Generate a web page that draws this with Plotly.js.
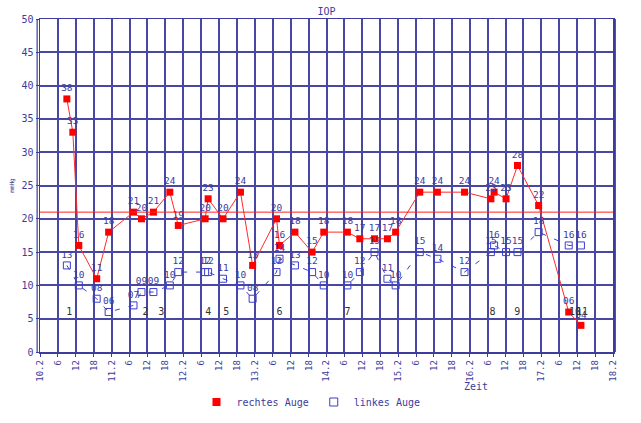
<!DOCTYPE html>
<html>
<head>
<meta charset="utf-8">
<script src="https://cdn.plot.ly/plotly-3.0.1.min.js"></script>
<style>html,body{margin:0;padding:0;background:#fff;}#chart{width:641px;height:423px;}</style>
</head>
<body>
<div id="chart"></div>
<script>
// Measurement times (day.month 02, year arbitrary)
const times = [
  "2016-02-10 09:00","2016-02-10 11:00","2016-02-10 13:00","2016-02-10 19:00","2016-02-10 23:00",
  "2016-02-11 07:20","2016-02-11 10:00","2016-02-11 14:00","2016-02-11 19:30","2016-02-11 22:20",
  "2016-02-12 07:20","2016-02-12 08:20","2016-02-12 13:20","2016-02-12 19:10","2016-02-12 23:15",
  "2016-02-13 07:15","2016-02-13 08:15","2016-02-13 13:25","2016-02-13 19:10","2016-02-13 23:05",
  "2016-02-14 07:00","2016-02-14 11:10","2016-02-14 16:05","2016-02-14 20:25","2016-02-14 23:10",
  "2016-02-15 07:15","2016-02-15 13:10","2016-02-15 22:15",
  "2016-02-16 07:05","2016-02-16 08:10","2016-02-16 12:10","2016-02-16 16:00","2016-02-16 23:05",
  "2016-02-17 09:10","2016-02-17 13:15"
];
const rechtesAuge = [38,33,16,11,18, 21,20,21,24,19, 20,23,20,24,13, 20,16,18,15,18, 18,17,17,17,18, 24,24,24, 23,24,23,28,22, 6,4];
const linkesAuge  = [13,null,10,8,6, 7,9,9,10,12, 12,12,11,10,8, 12,14,13,12,10, 10,12,15,11,10, 15,14,12, 15,16,15,15,18, 16,16];

const eventTimes = [
  "2016-02-10 09:50","2016-02-11 11:20","2016-02-11 16:40","2016-02-12 08:25","2016-02-12 14:25",
  "2016-02-13 08:15","2016-02-14 07:05","2016-02-16 07:40","2016-02-16 15:55","2016-02-17 11:15","2016-02-17 13:35"
];
const eventLabels = ["1","2","3","4","5","6","7","8","9","10","11"];
const eventLevel = 6;

const refLine = 21;

const tickDays = ["10","11","12","13","14","15","16","17","18"];
const tickHours = ["6","12","18"];

const navy = "#3c3c9c";
const gridCol = "#4848a4";
const font = "DejaVu Sans Mono, monospace";

function pad(v){ return v == null ? "" : String(v).padStart(2, "0"); }

const tickVals = [], tickText = [];
tickDays.forEach((d, i) => {
  tickVals.push("2016-02-" + d + " 00:00"); tickText.push(d + ".2");
  if (i < tickDays.length - 1) {
    tickHours.forEach(h => { tickVals.push("2016-02-" + d + " " + h.padStart(2,"0") + ":00"); tickText.push(h); });
  }
});

const traces = [
  { x: times, y: rechtesAuge, mode: "lines+markers+text", text: rechtesAuge.map(pad),
    textposition: "top center", textfont: {family: font, size: 9.5, color: navy},
    line: {color: "#ff2a2a", width: 1}, marker: {symbol: "square", size: 7, color: "#ff0000"},
    showlegend: false, cliponaxis: false },
  { x: times, y: linkesAuge, mode: "lines+markers+text", text: linkesAuge.map(pad),
    textposition: "top center", textfont: {family: font, size: 9.5, color: navy},
    connectgaps: true,
    line: {color: "#3c3cd0", width: 1, dash: "5px,9px"}, marker: {symbol: "square-open", size: 7, color: "#3c3cd0", line: {width: 1}},
    showlegend: false, cliponaxis: false },
  { x: eventTimes, y: eventLabels.map(() => eventLevel), mode: "text", text: eventLabels,
    textposition: "middle center", textfont: {family: font, size: 10, color: "#333333"}, showlegend: false },
  { x: [null], y: [null], mode: "markers", name: "rechtes Auge", marker: {symbol: "square", size: 8, color: "#ff0000"} },
  { x: [null], y: [null], mode: "markers", name: "linkes Auge", marker: {symbol: "square-open", size: 8, color: "#3c3cd0"} }
];

const layout = {
  width: 641, height: 423,
  margin: {l: 40, r: 28, t: 19, b: 71, autoexpand: false},
  paper_bgcolor: "#ffffff", plot_bgcolor: "#ffffff",
  font: {family: font, size: 9, color: navy},
  title: {text: "IOP", x: 0.5, xref: "paper", y: 1 - 11/423, yanchor: "middle", font: {family: font, size: 10, color: navy}},
  xaxis: {
    type: "date", range: ["2016-02-10 00:00", "2016-02-18 00:00"], automargin: false,
    tickmode: "array", tickvals: tickVals, ticktext: tickText, tickangle: -90,
    showgrid: true, gridcolor: gridCol, gridwidth: 2,
    showline: true, linecolor: navy, linewidth: 1.5, mirror: true,
    ticks: "outside", ticklen: 3, tickcolor: navy,
    tickfont: {family: font, size: 9, color: navy}, zeroline: false
  },
  yaxis: {
    range: [0, 50], dtick: 5, tick0: 0, automargin: false,
    showgrid: true, gridcolor: gridCol, gridwidth: 2,
    showline: true, linecolor: navy, linewidth: 1.5, mirror: true,
    ticks: "outside", ticklen: 3, tickcolor: navy,
    tickfont: {family: font, size: 10, color: navy}, zeroline: false,
    title: {text: "mmHg", font: {family: font, size: 6, color: navy}, standoff: 6}
  },
  shapes: [
    {type: "line", xref: "paper", x0: 0, x1: 1, yref: "y", y0: refLine, y1: refLine, line: {color: "#ff2020", width: 1}},
    {type: "line", xref: "paper", x0: -0.005, x1: -0.005, yref: "paper", y0: 0, y1: 1, line: {color: navy, width: 1.2}},
    {type: "line", xref: "paper", x0: 1.004, x1: 1.004, yref: "paper", y0: 0, y1: 1, line: {color: navy, width: 1.2}}
  ],
  annotations: [
    {text: "Zeit", xref: "paper", yref: "paper", x: (490-40)/573, y: (352-386)/333, yanchor: "middle", showarrow: false,
     font: {family: font, size: 10, color: navy}}
  ],
  legend: {orientation: "h", xref: "container", x: 311/641, xanchor: "center",
           yref: "container", y: 1 - 402/423, yanchor: "middle",
           font: {family: font, size: 10, color: navy}, itemwidth: 30}
};

Plotly.newPlot("chart", traces, layout, {displayModeBar: false, staticPlot: true});
</script>
</body>
</html>
